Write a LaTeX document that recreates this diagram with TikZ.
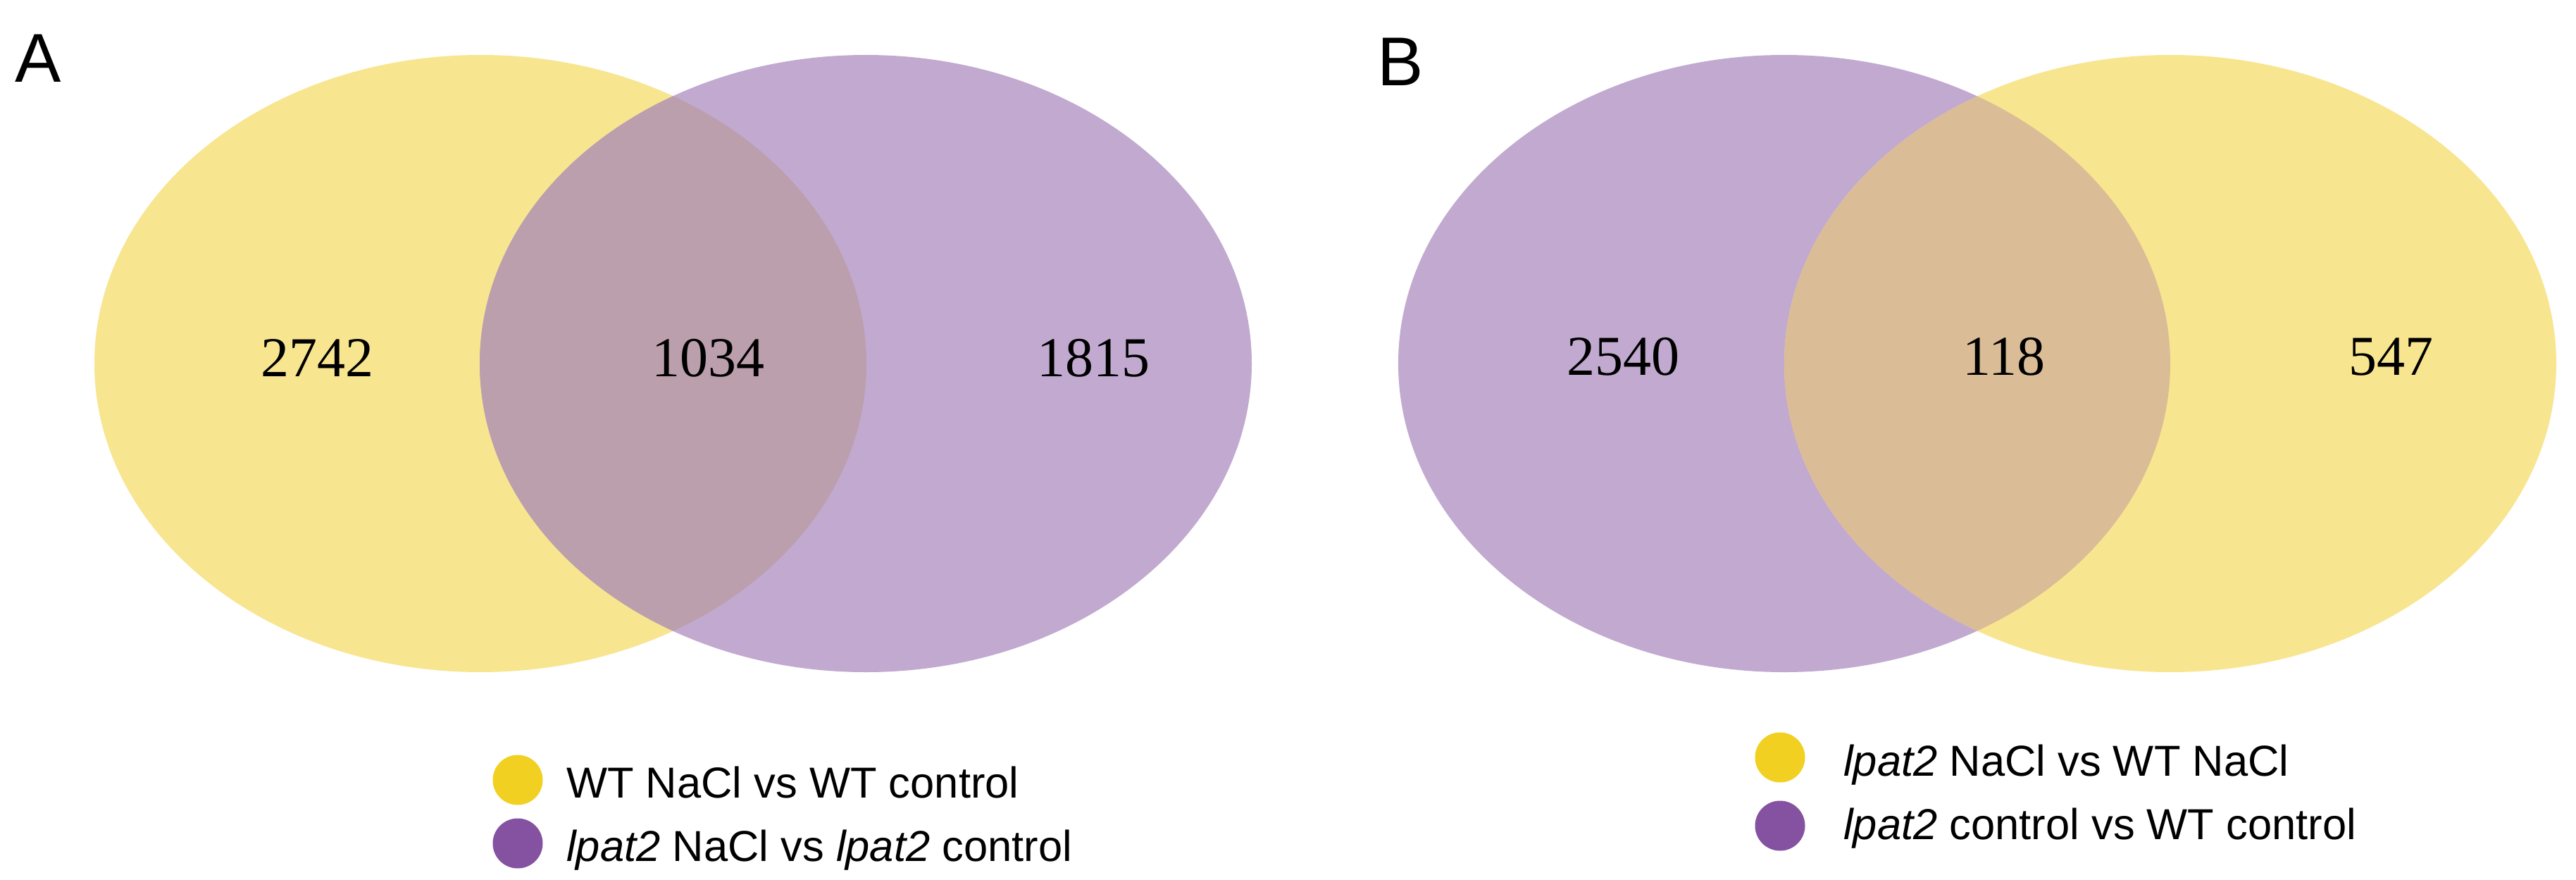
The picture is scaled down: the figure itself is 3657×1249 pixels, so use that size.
\documentclass[tikz,border=0pt]{standalone}
\usepackage{fontspec}
\setmainfont{Liberation Serif}
\newfontfamily\arialf{Liberation Sans}
\definecolor{vyel}{HTML}{F8E590}
\definecolor{vpur}{HTML}{C1A9D0}
\definecolor{ovA}{HTML}{BC9FAC}
\definecolor{ovB}{HTML}{DABD96}
\definecolor{dotyel}{HTML}{F2D022}
\definecolor{dotpur}{HTML}{8452A0}
\begin{document}
\begin{tikzpicture}[x=1pt,y=-1pt,
  num/.style={anchor=base,inner sep=0pt,font=\fontsize{80}{96}\selectfont},
  panel/.style={anchor=base west,inner sep=0pt,font=\arialf\fontsize{98}{118}\selectfont},
  legtxt/.style={anchor=base west,inner sep=0pt,font=\arialf\fontsize{61.5}{74}\selectfont},
  legdot/.style={circle,inner sep=0pt,minimum size=71pt},
  ell/.style={x radius=548,y radius=438}]
\useasboundingbox[fill=white] (0,0) rectangle (3657,1249);

% Panel A
\fill[vyel] (682,516) ellipse [ell];
\fill[vpur] (1229,516) ellipse [ell];
\begin{scope}
  \clip (682,516) ellipse [ell];
  \fill[ovA] (1229,516) ellipse [ell];
\end{scope}
\node[panel] (labA) at (21,117) {A};
\node[num] (a1) at (450,534) {2742};
\node[num] (a2) at (1005,534) {1034};
\node[num] (a3) at (1552,534) {1815};
\node[legdot,fill=dotyel] (ad1) at (735,1107) {};
\node[legdot,fill=dotpur] (ad2) at (735,1197) {};
\node[legtxt] (at1) at (804,1132) {WT NaCl vs WT control};
\node[legtxt] (at2) at (804,1222) {{\itshape lpat2} NaCl vs {\itshape lpat2} control};

% Panel B
\fill[vpur] (2533,516) ellipse [ell];
\fill[vyel] (3081,516) ellipse [ell];
\begin{scope}
  \clip (2533,516) ellipse [ell];
  \fill[ovB] (3081,516) ellipse [ell];
\end{scope}
\node[panel] (labB) at (1955,122) {B};
\node[num] (b1) at (2304,532) {2540};
\node[num] (b2) at (2845,532) {118};
\node[num] (b3) at (3394,532) {547};
\node[legdot,fill=dotyel] (bd1) at (2527,1075) {};
\node[legdot,fill=dotpur] (bd2) at (2527,1172) {};
\node[legtxt] (bt1) at (2617,1101) {{\itshape lpat2} NaCl vs WT NaCl};
\node[legtxt] (bt2) at (2617,1191) {{\itshape lpat2} control vs WT control};
\end{tikzpicture}
\end{document}
